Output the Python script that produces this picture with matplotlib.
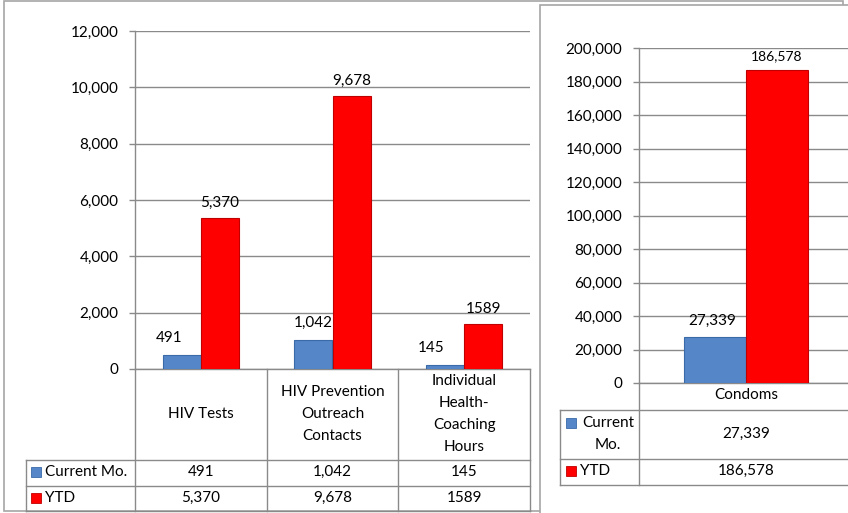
import matplotlib
matplotlib.use("Agg")
import matplotlib.pyplot as plt
from matplotlib.lines import Line2D
from matplotlib.patches import Rectangle
from matplotlib.transforms import blended_transform_factory
from matplotlib.ticker import FuncFormatter, MultipleLocator

plt.rcParams['font.family'] = ['Lato', 'DejaVu Sans']

# ---------------- data ----------------
categories_left = ["HIV Tests", "HIV Prevention\nOutreach\nContacts", "Individual\nHealth-\nCoaching\nHours"]
current_left = [491, 1042, 145]
ytd_left = [5370, 9678, 1589]
current_left_labels = ["491", "1,042", "145"]
ytd_left_labels = ["5,370", "9,678", "1589"]

categories_right = ["Condoms"]
current_right = [27339]
ytd_right = [186578]
current_right_labels = ["27,339"]
ytd_right_labels = ["186,578"]

series_names_left = ["Current Mo.", "YTD"]
series_names_right = ["Current\nMo.", "YTD"]

# ---------------- style ----------------
W, H = 848, 513
BLUE = "#5587C8"
BLUE_EDGE = "#3A6AA8"
RED = "#FF0000"
RED_EDGE = "#C00000"
GRID = "#8A8A8A"
FRAME = "#A6A6A6"
FS = 11
LS = 1.75

fig = plt.figure(figsize=(W / 100, H / 100), dpi=100)


def fx(x):
    return x / W


def fy(y):
    return 1 - y / H


def fline(x0, y0, x1, y1, z, color=GRID, lw=1.0):
    fig.add_artist(Line2D([fx(x0), fx(x1)], [fy(y0), fy(y1)], color=color, lw=lw,
                          transform=fig.transFigure, zorder=z))


# left outer frame
fig.add_artist(Rectangle((fx(4), fy(511)), fx(843) - fx(4), fy(1) - fy(511),
                         transform=fig.transFigure, facecolor="white", edgecolor=FRAME,
                         lw=1.2, zorder=0))


def style_axes(ax, z):
    ax.set_zorder(z)
    ax.patch.set_alpha(0)
    for s in ["top", "right"]:
        ax.spines[s].set_visible(False)
    ax.spines["left"].set_color(GRID)
    ax.spines["bottom"].set_color(GRID)
    ax.spines["left"].set_linewidth(1.0)
    ax.spines["bottom"].set_linewidth(1.0)
    ax.yaxis.grid(True, color=GRID, lw=1.0)
    ax.set_axisbelow(True)
    ax.tick_params(axis="y", direction="out", length=4, width=1, color=GRID, pad=8,
                   labelsize=FS)
    ax.tick_params(axis="x", length=0, labelbottom=False)
    ax.yaxis.set_major_formatter(FuncFormatter(lambda v, p: f"{int(v):,}"))


def draw_bars(ax, cur, ytd, cur_lbl, ytd_lbl, cur_dx, ytd_fs):
    xs = list(range(len(cur)))
    w = 0.29
    b1 = ax.bar([x - w / 2 for x in xs], cur, width=w, color=BLUE, edgecolor=BLUE_EDGE, lw=0.8, zorder=3)
    b2 = ax.bar([x + w / 2 for x in xs], ytd, width=w, color=RED, edgecolor=RED_EDGE, lw=0.8, zorder=3)
    for i, r in enumerate(b1):
        ax.annotate(cur_lbl[i], (r.get_x() + r.get_width() / 2, r.get_height()),
                    xytext=(cur_dx[i], 7), textcoords="offset points",
                    ha="center", va="bottom", fontsize=FS, zorder=4)
    for i, r in enumerate(b2):
        ax.annotate(ytd_lbl[i], (r.get_x() + r.get_width() / 2, r.get_height()),
                    xytext=(0, 6), textcoords="offset points",
                    ha="center", va="bottom", fontsize=ytd_fs, zorder=4)


# ---------------- left chart ----------------
axL = fig.add_axes([fx(135), fy(369), fx(530) - fx(135), fy(31) - fy(369)])
style_axes(axL, 1)
axL.set_xlim(-0.5, len(categories_left) - 0.5)
axL.set_ylim(0, 12000)
axL.yaxis.set_major_locator(MultipleLocator(2000))
draw_bars(axL, current_left, ytd_left, current_left_labels, ytd_left_labels, [-9, 0, -10], FS)

trL = blended_transform_factory(axL.transData, fig.transFigure)
nL = len(categories_left)
# vertical dividers in table
for k in range(nL + 1):
    fig.add_artist(Line2D([k - 0.5, k - 0.5], [fy(369), fy(511)], color=GRID, lw=1.0,
                          transform=trL, zorder=1.5))
for i, c in enumerate(categories_left):
    fig.text(0, fy(414), c, transform=trL, ha="center", va="center", fontsize=FS,
             linespacing=LS).set_x(i)
# table rows
for yy in [460, 486, 511]:
    fline(26, yy, 530, yy, 1.5)
fline(26, 460, 26, 511, 1.5)
row_cy = [472, 498]
for r, (name, vals, col, ecol) in enumerate([
        (series_names_left[0], current_left_labels, BLUE, BLUE_EDGE),
        (series_names_left[1], ytd_left_labels, RED, RED_EDGE)]):
    fig.add_artist(Rectangle((fx(31), fy(row_cy[r] + 5)), fx(10), 10 / H, transform=fig.transFigure,
                             facecolor=col, edgecolor=ecol, lw=0.6, zorder=1.6))
    fig.text(fx(45), fy(row_cy[r]), name, ha="left", va="center", fontsize=FS, zorder=1.6)
    for i, v in enumerate(vals):
        t = fig.text(0, fy(row_cy[r]), v, transform=trL, ha="center", va="center", fontsize=FS)
        t.set_x(i)

# ---------------- right panel ----------------
fig.add_artist(Rectangle((fx(540), fy(530)), fx(900) - fx(540), fy(5) - fy(530),
                         transform=fig.transFigure, facecolor="white", edgecolor=FRAME,
                         lw=1.2, zorder=2))

axR = fig.add_axes([fx(639), fy(383), fx(853) - fx(639), fy(48) - fy(383)])
style_axes(axR, 3)
axR.set_xlim(-0.5, len(categories_right) - 0.5)
axR.set_ylim(0, 200000)
axR.yaxis.set_major_locator(MultipleLocator(20000))
draw_bars(axR, current_right, ytd_right, current_right_labels, ytd_right_labels, [-2], 10)

trR = blended_transform_factory(axR.transData, fig.transFigure)
for i, c in enumerate(categories_right):
    t = fig.text(0, fy(395), c, transform=trR, ha="center", va="center", fontsize=FS, zorder=4)
    t.set_x(i)
fig.add_artist(Line2D([fx(639), fx(639)], [fy(383), fy(485)], color=GRID, lw=1.0,
                      transform=fig.transFigure, zorder=3.5))
for yy in [410, 459, 485]:
    fline(560, yy, 848, yy, 3.5)
fline(560, 410, 560, 485, 3.5)
rowR_cy = [434, 471]
for r, (name, vals, col, ecol) in enumerate([
        (series_names_right[0], current_right_labels, BLUE, BLUE_EDGE),
        (series_names_right[1], ytd_right_labels, RED, RED_EDGE)]):
    sq_y = 423 if r == 0 else rowR_cy[r]
    fig.add_artist(Rectangle((fx(566), fy(sq_y + 5)), fx(10), 10 / H, transform=fig.transFigure,
                             facecolor=col, edgecolor=ecol, lw=0.6, zorder=3.6))
    if r == 0:
        fig.text(fx(608), fy(rowR_cy[r]), name, ha="center", va="center", fontsize=FS,
                 linespacing=LS, zorder=3.6)
    else:
        fig.text(fx(580), fy(rowR_cy[r]), name, ha="left", va="center", fontsize=FS, zorder=3.6)
    for i, v in enumerate(vals):
        t = fig.text(0, fy(rowR_cy[r]), v, transform=trR, ha="center", va="center", fontsize=FS,
                     zorder=3.6)
        t.set_x(i)

fig.savefig("out.png", dpi=100)
